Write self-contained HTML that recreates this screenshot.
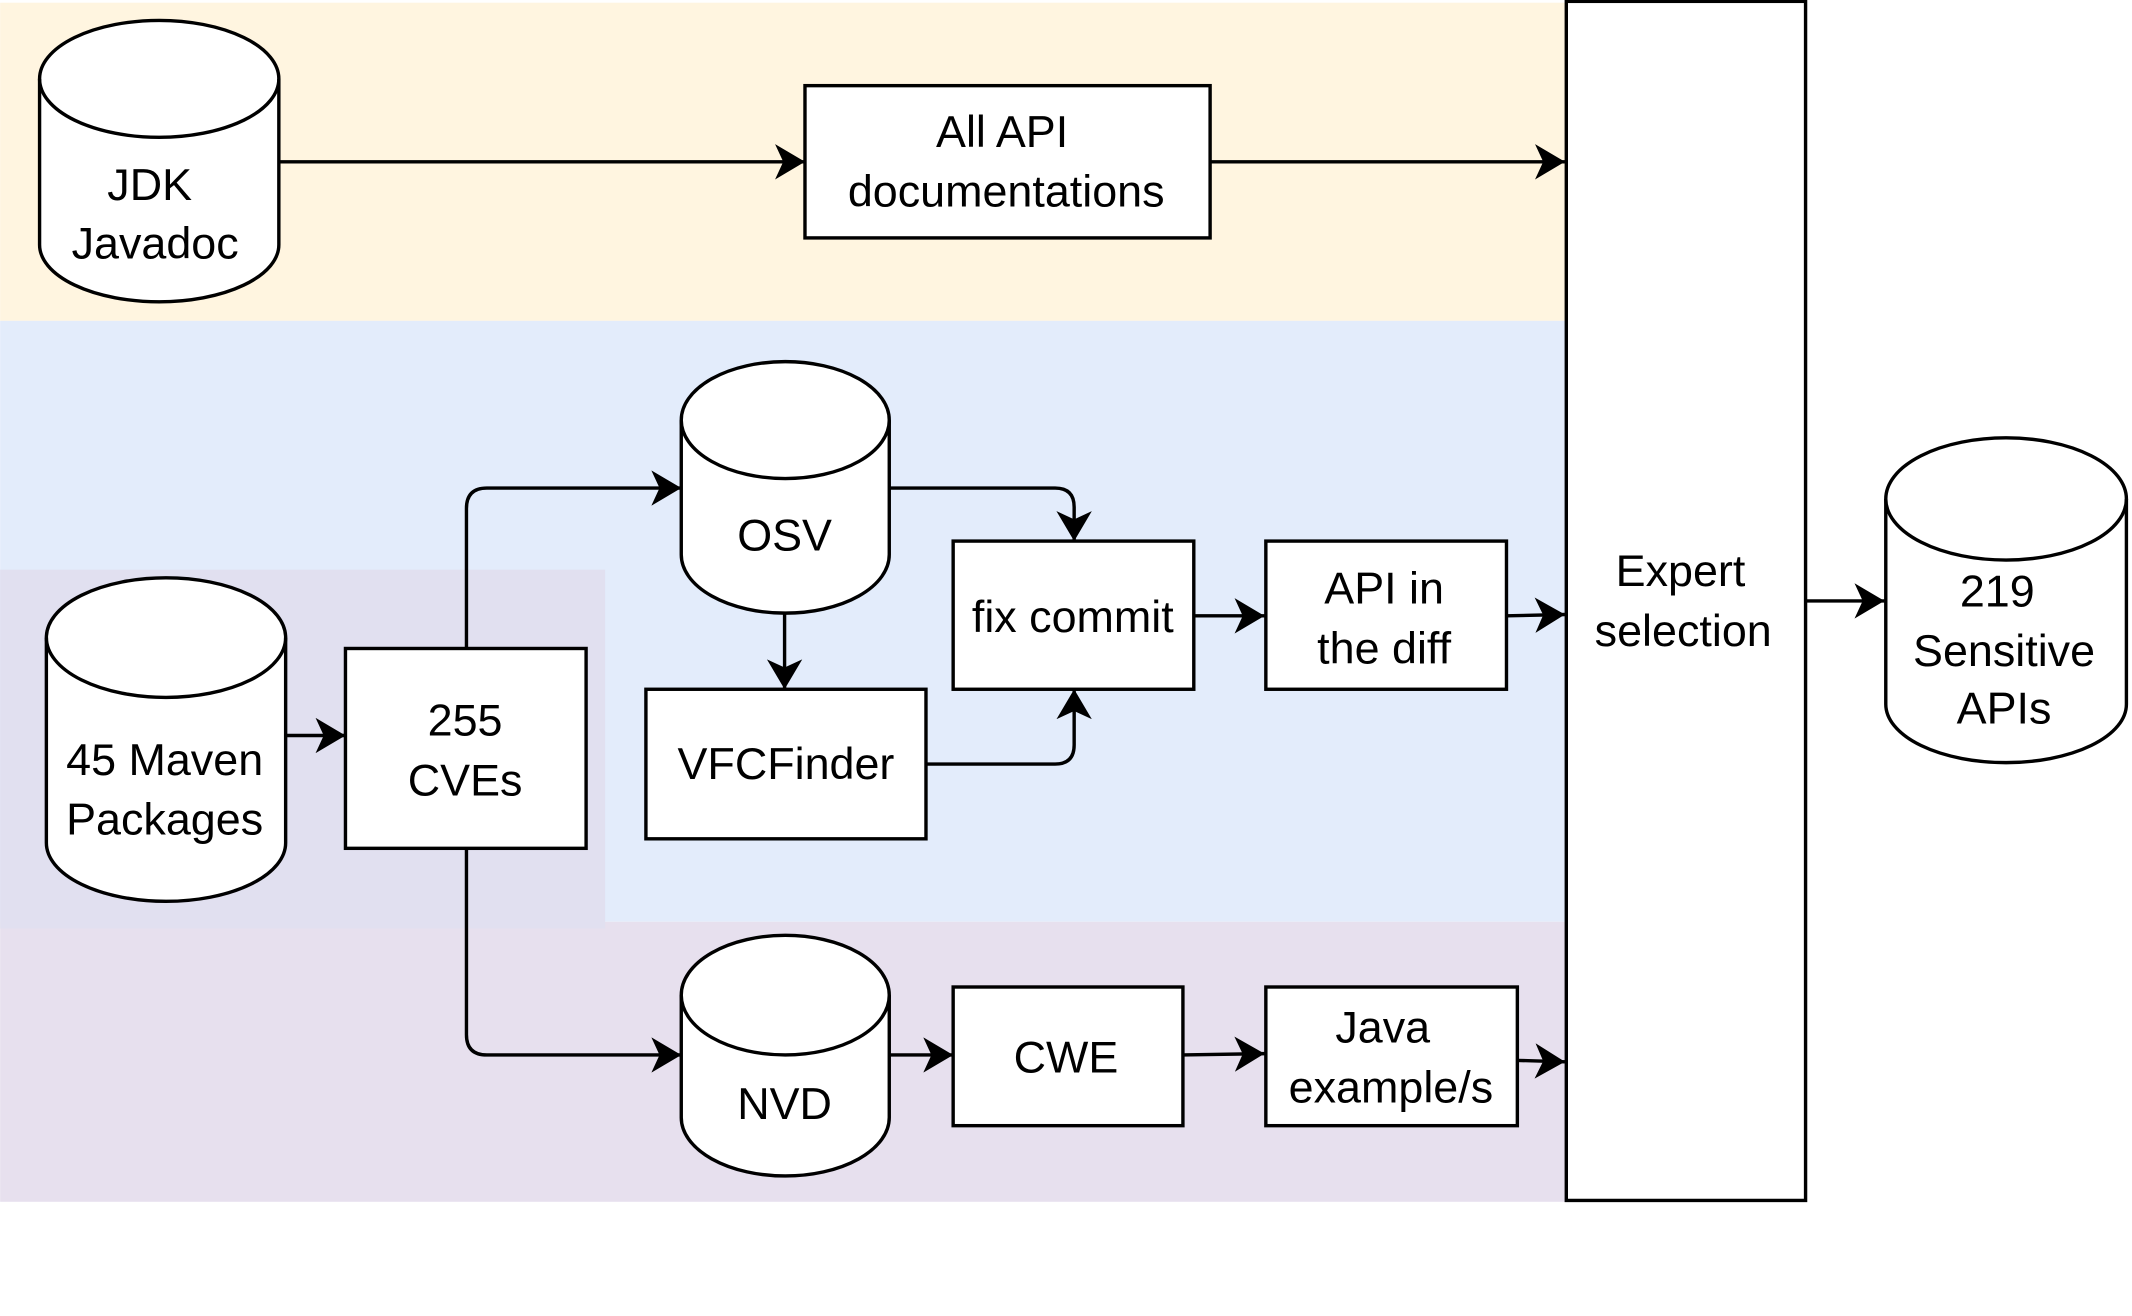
<!DOCTYPE html>
<html><head><meta charset="utf-8"><style>
html,body{margin:0;padding:0;background:#fff;}
svg{display:block;}
text{font-family:"Liberation Sans",Arial,sans-serif;font-size:33px;fill:#000;text-anchor:middle;}
</style></head><body>
<svg width="2132" height="1316" viewBox="0 0 1568 968" xmlns="http://www.w3.org/2000/svg">
<defs>
<marker id="a" markerUnits="userSpaceOnUse" markerWidth="24" markerHeight="26" refX="22" refY="13" orient="auto" viewBox="0 0 24 26">
<path d="M0,0 L22,13 L0,26 L6,13 Z" fill="#000"/>
</marker>
</defs>
<rect x="0" y="2" width="1152" height="234" fill="#fff5e0"/>
<rect x="0" y="236" width="1152" height="442" fill="#e3ecfb"/>
<rect x="0" y="678" width="1152" height="206" fill="#e7e0ee"/>
<rect x="0" y="419" width="445" height="264" fill="#e1e0f0"/>

<g fill="#fff" stroke="#000" stroke-width="2.5">
<path d="M29,58 A88,43 0 0 1 205,58 L205,180 A88,42 0 0 1 29,180 Z"/>
<path d="M29,58 A88,43 0 0 0 205,58" fill="none"/>
<path d="M34,469 A88,44 0 0 1 210,469 L210,620 A88,43 0 0 1 34,620 Z"/>
<path d="M34,469 A88,44 0 0 0 210,469" fill="none"/>
<path d="M501,309 A76.5,43 0 0 1 654,309 L654,408 A76.5,43 0 0 1 501,408 Z"/>
<path d="M501,309 A76.5,43 0 0 0 654,309" fill="none"/>
<path d="M501,732 A76.5,44 0 0 1 654,732 L654,822 A76.5,43 0 0 1 501,822 Z"/>
<path d="M501,732 A76.5,44 0 0 0 654,732" fill="none"/>
<path d="M1387,367 A88.5,45 0 0 1 1564,367 L1564,518 A88.5,43 0 0 1 1387,518 Z"/>
<path d="M1387,367 A88.5,45 0 0 0 1564,367" fill="none"/>
<rect x="592" y="63" width="298" height="112"/>
<rect x="1152" y="1" width="176" height="882"/>
<rect x="254" y="477" width="177" height="147"/>
<rect x="475" y="507" width="206" height="110"/>
<rect x="701" y="398" width="177" height="109"/>
<rect x="931" y="398" width="177" height="109"/>
<rect x="701" y="726" width="169" height="102"/>
<rect x="931" y="726" width="185" height="102"/>
</g>

<g fill="none" stroke="#000" stroke-width="2.5" marker-end="url(#a)">
<path d="M205,119 L592,119"/>
<path d="M890,119 L1151,119"/>
<path d="M1328,442 L1386,442"/>
<path d="M210,541 L254,541"/>
<path d="M343,477 L343,374 Q343,359 358,359 L501,359"/>
<path d="M654,359 L776,359 Q790,359 790,373 L790,398"/>
<path d="M577,451 L577,507"/>
<path d="M681,562 L776,562 Q790,562 790,548 L790,507"/>
<path d="M878,453 L930,453"/>
<path d="M1108,453 L1151,452"/>
<path d="M343,624 L343,761 Q343,776 358,776 L501,776"/>
<path d="M654,776 L701,776"/>
<path d="M870,776 L930,775"/>
<path d="M1116,780 L1151,781"/>
</g>

<text x="110" y="147">JDK</text>
<text x="114" y="190">Javadoc</text>
<text x="737" y="108">All API</text>
<text x="740" y="152">documentations</text>
<text x="1236" y="431">Expert</text>
<text x="1238" y="475">selection</text>
<text x="1469" y="446">219</text>
<text x="1474" y="490">Sensitive</text>
<text x="1474" y="532">APIs</text>
<text x="577" y="405">OSV</text>
<text x="342" y="541">255</text>
<text x="342" y="585">CVEs</text>
<text x="121" y="570">45 Maven</text>
<text x="121" y="614">Packages</text>
<text x="578" y="573">VFCFinder</text>
<text x="789" y="465">fix commit</text>
<text x="1018" y="444">API in</text>
<text x="1018" y="488">the diff</text>
<text x="577" y="823">NVD</text>
<text x="784" y="789">CWE</text>
<text x="1017" y="767">Java</text>
<text x="1023" y="811">example/s</text>
</svg>
</body></html>
